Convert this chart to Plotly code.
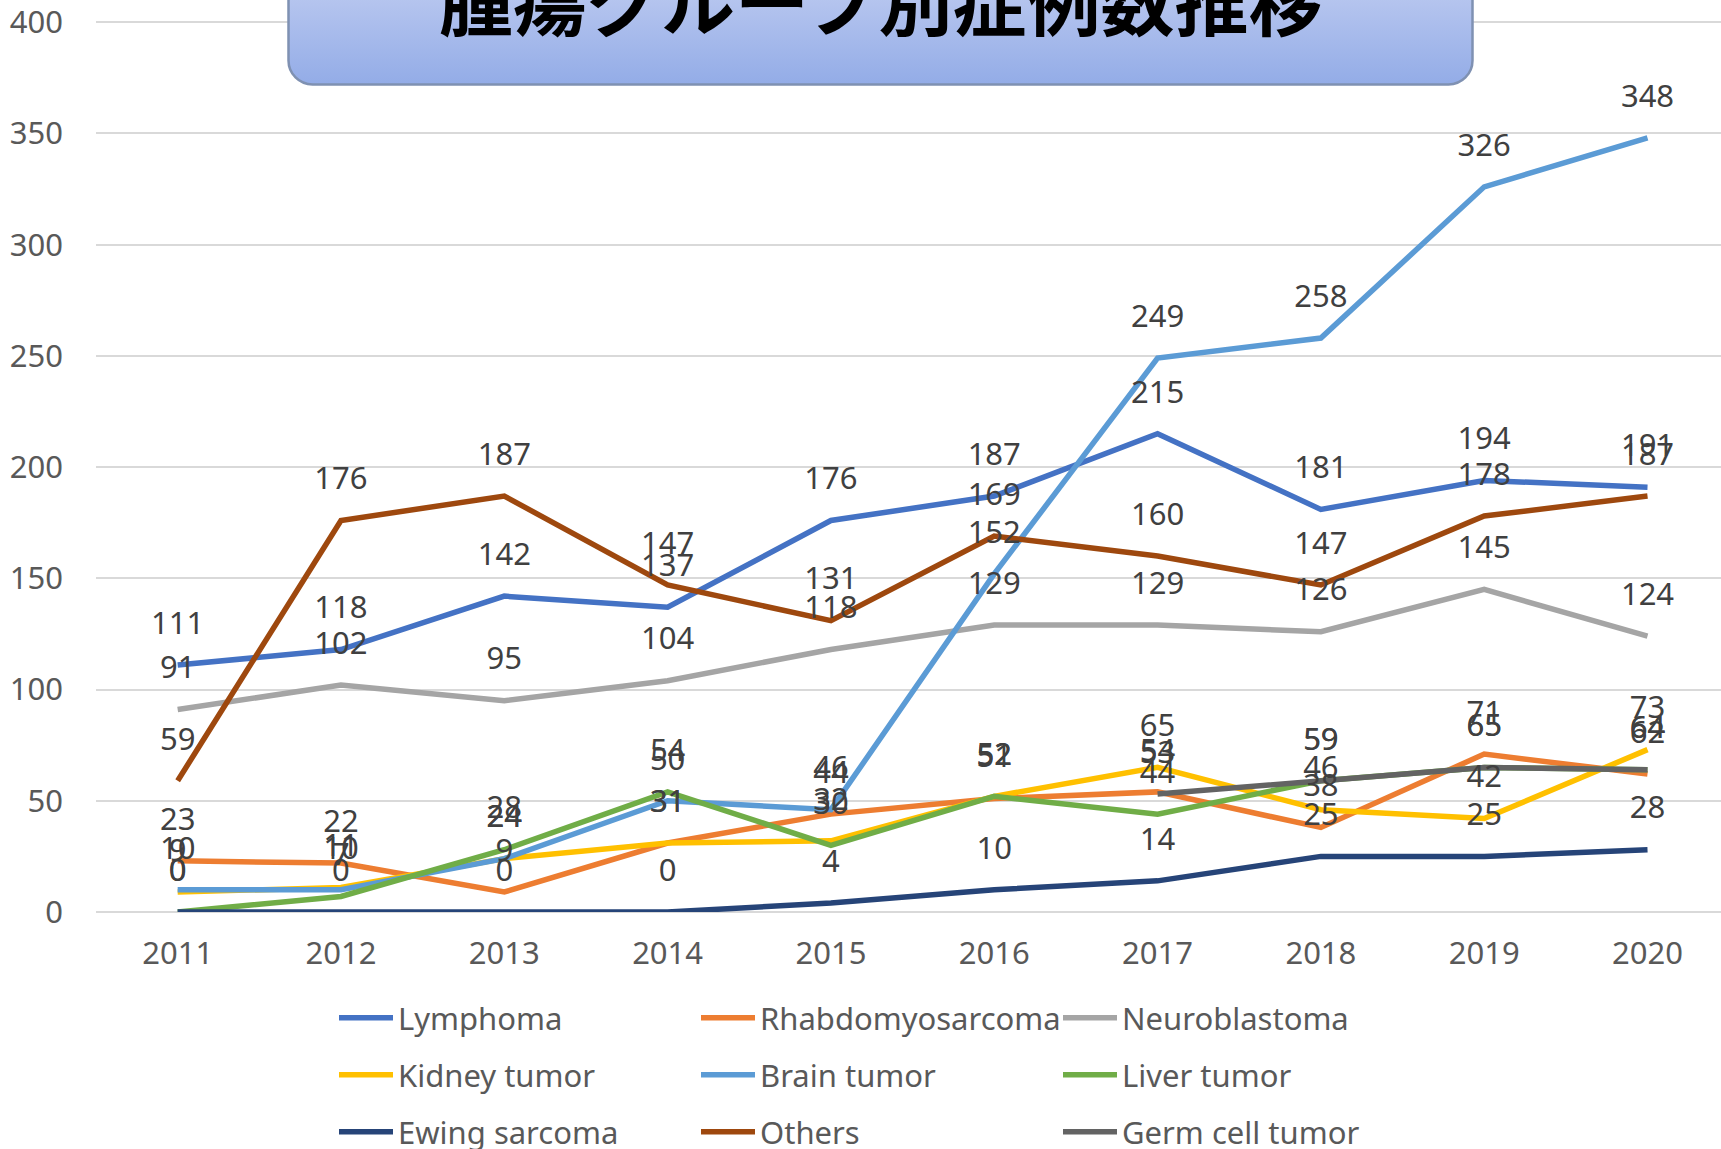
import base64
import plotly.graph_objects as go

years = ["2011", "2012", "2013", "2014", "2015", "2016", "2017", "2018", "2019", "2020"]

lymphoma = [111, 118, 142, 137, 176, 187, 215, 181, 194, 191]
rhabdomyosarcoma = [23, 22, 9, 31, 44, 51, 54, 38, 71, 62]
neuroblastoma = [91, 102, 95, 104, 118, 129, 129, 126, 145, 124]
kidney_tumor = [9, 11, 24, 31, 32, 52, 65, 46, 42, 73]
brain_tumor = [10, 10, 24, 50, 46, 152, 249, 258, 326, 348]
liver_tumor = [0, 7, 28, 54, 30, 52, 44, 59, 65, 64]
ewing_sarcoma = [0, 0, 0, 0, 4, 10, 14, 25, 25, 28]
others = [59, 176, 187, 147, 131, 169, 160, 147, 178, 187]
germ_cell_tumor = [None, None, None, None, None, None, 53, 59, 65, 64]

series_names = ["Lymphoma", "Rhabdomyosarcoma", "Neuroblastoma", "Kidney tumor", "Brain tumor",
                "Liver tumor", "Ewing sarcoma", "Others", "Germ cell tumor"]
series_values = [lymphoma, rhabdomyosarcoma, neuroblastoma, kidney_tumor, brain_tumor,
                 liver_tumor, ewing_sarcoma, others, germ_cell_tumor]
series_colors = ["#4472C4", "#ED7D31", "#A5A5A5", "#FFC000", "#5B9BD5",
                 "#70AD47", "#264478", "#9E480E", "#636363"]
legend_rows = ["legend", "legend", "legend", "legend2", "legend2", "legend2",
               "legend3", "legend3", "legend3"]

title_text = "腫瘍グループ別症例数推移"
y_ticks = [0, 50, 100, 150, 200, 250, 300, 350, 400]
y_max = 400
y_pad = 1  # keeps the top gridline just inside the plot area

FONT = "Noto Sans, Noto Sans CJK JP, sans-serif"
FS = 31
W, H = 1721, 1149
# value 0 at page y 912, value 400 at page y 22
PX_PER_UNIT = (912 - 22) / y_max
ML, MR = 96, 0
MB = H - 912
MT = round(912 - (y_max + y_pad) * PX_PER_UNIT)
PW = W - ML - MR
PH = H - MT - MB

fig = go.Figure()

for name, vals, col, lg in zip(series_names, series_values, series_colors, legend_rows):
    fig.add_trace(go.Scatter(
        x=years, y=vals, name=name, mode="lines",
        line=dict(color=col, width=5.5),
        legend=lg, hoverinfo="skip", connectgaps=False,
    ))

for name, vals in zip(series_names, series_values):
    fig.add_trace(go.Scatter(
        x=years, y=vals, mode="markers+text",
        text=["" if v is None else str(v) for v in vals],
        textposition="top center",
        textfont=dict(family=FONT, size=FS, color="#404040"),
        marker=dict(size=36, opacity=0),
        showlegend=False, hoverinfo="skip", cliponaxis=False,
    ))


def px_x(p):
    """page pixel x -> paper x"""
    return (p - ML) / PW


def px_y(p):
    """page pixel y -> paper y"""
    return (MT + PH - p) / PH


# title box (gradient) as an SVG image; page pixels x 287..1474, from top edge to y 86
bx0, bx1, by1 = 287, 1474, 86
bw_ = bx1 - bx0
bh_ = by1
svg = (
    f'<svg xmlns="http://www.w3.org/2000/svg" width="{bw_}" height="{bh_}" viewBox="0 0 {bw_} {bh_}">'
    '<defs><linearGradient id="g" x1="0" y1="0" x2="0" y2="1">'
    '<stop offset="0" stop-color="#C5D0F2"/><stop offset="1" stop-color="#93ACE7"/>'
    '</linearGradient></defs>'
    f'<rect x="1.5" y="-40" width="{bw_ - 3}" height="{bh_ + 40 - 1.5}" rx="24" ry="24" '
    'fill="url(#g)" stroke="#7F91B2" stroke-width="2.5"/></svg>'
)
src = "data:image/svg+xml;base64," + base64.b64encode(svg.encode()).decode()

fig.add_layout_image(dict(
    source=src, xref="paper", yref="paper",
    x=px_x(bx0), y=px_y(0), sizex=bw_ / PW, sizey=bh_ / PH,
    xanchor="left", yanchor="top", sizing="stretch", layer="above",
))

fig.add_annotation(
    text=f"<b>{title_text}</b>", xref="paper", yref="paper",
    x=px_x((bx0 + bx1) / 2), y=px_y(53), xanchor="center", yanchor="bottom",
    showarrow=False, font=dict(family="Noto Sans CJK JP", size=74, color="#000000"),
)

legend_common = dict(
    orientation="h", xanchor="left", yanchor="middle",
    font=dict(family=FONT, size=FS, color="#595959"),
    itemwidth=54, entrywidth=293, entrywidthmode="pixels",
    bgcolor="rgba(0,0,0,0)", borderwidth=0, traceorder="normal",
)
lx = px_x(334)

fig.update_layout(
    width=W, height=H,
    margin=dict(l=ML, r=MR, t=MT, b=MB, autoexpand=False),
    paper_bgcolor="white", plot_bgcolor="white",
    font=dict(family=FONT, size=FS, color="#595959"),
    xaxis=dict(
        type="category", range=[-0.5, 9.45], showgrid=False, showline=False,
        ticks="", tickfont=dict(family=FONT, size=FS, color="#595959"),
        ticklabelstandoff=20, fixedrange=True, automargin=False,
    ),
    yaxis=dict(
        range=[0, y_max + y_pad], tickvals=y_ticks, showgrid=True, gridcolor="#D9D9D9", gridwidth=1.5,
        zeroline=True, zerolinecolor="#D9D9D9", zerolinewidth=1.5, showline=False,
        ticks="", tickfont=dict(family=FONT, size=FS, color="#595959"),
        ticklabelstandoff=32, fixedrange=True, automargin=False,
        ticklabeloverflow="allow",
    ),
    legend=dict(legend_common, x=lx, y=px_y(1018)),
    legend2=dict(legend_common, x=lx, y=px_y(1075)),
    legend3=dict(legend_common, x=lx, y=px_y(1132)),
)

fig.write_html(
    "out.html",
    config={"displayModeBar": False},
    post_script="document.body.style.margin='0';document.body.style.overflow='hidden';",
)
